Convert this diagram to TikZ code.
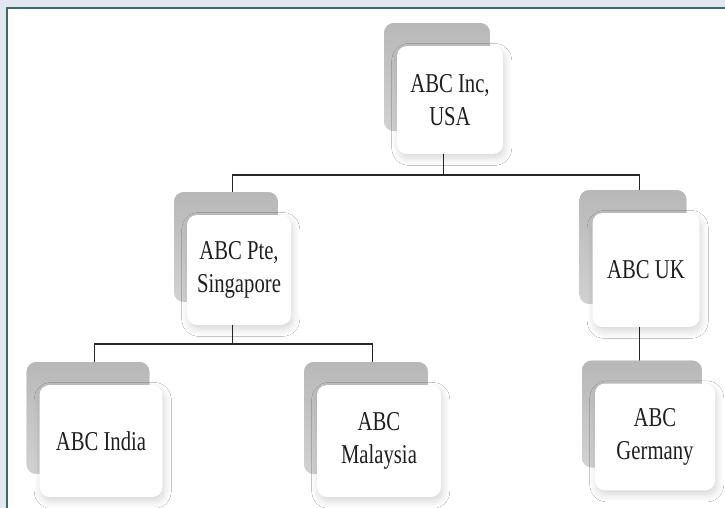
\documentclass[tikz,border=0pt]{standalone}
\usepackage{fontspec}
\setmainfont[FakeStretch=0.76]{Liberation Serif}
\usepackage{tikz}
\usetikzlibrary{shadows}
\usetikzlibrary{shadows.blur}
\usetikzlibrary{backgrounds}
\usetikzlibrary{calc}
\definecolor{pagebg}{HTML}{E1E7EF}
\definecolor{framecol}{HTML}{3E6A6A}

\begin{document}
\begin{tikzpicture}
  [
    x=0.02cm, y=-0.02cm,
    unit/.style={
      general shadow={shadow xshift=-.26cm, shadow yshift=.46cm, fill=black!22,
        top color=black!28, bottom color=black!18, rounded corners=.2cm},
      blur shadow={shadow xshift=1pt, shadow yshift=-2.5pt, shadow blur radius=4pt,
        shadow blur steps=10, shadow opacity=16},
      fill=white, rounded corners=.2cm, align=center, inner sep=1pt,
      minimum height=2.2cm, text=black!88,
      font=\fontsize{15.5}{19}\selectfont
    },
    link/.style={line width=1pt, black!85},
  ]
    \useasboundingbox (0,0) rectangle (725,508);
    % companies
    \node [unit, minimum width=2.12cm, minimum height=2.16cm] (usa) at (450,100) {ABC Inc,\\USA};
    \node [unit, minimum width=2.08cm] (sing) at (239,270) {ABC Pte,\\Singapore};
    \node [unit, minimum width=2.14cm, minimum height=2.28cm] (uk) at (646,270) {ABC UK};
    \node [unit, minimum width=2.46cm, minimum height=2.24cm] (india) at (101,441) {ABC India};
    \node [unit, minimum width=2.48cm, minimum height=2.24cm] (malay) at (379,441) {ABC\\Malaysia};
    \node [unit, minimum width=2.4cm, minimum height=2.14cm] (germ) at (655,437) {ABC\\Germany};
    \begin{scope}[on background layer]
      % panel
      \fill [pagebg] (0,0) rectangle (725,508);
      \fill [white] (7,8) rectangle (725,508);
      \draw [framecol, line width=1.3pt] (725,8) -- (7,8) -- (7,508);
      % links
      \draw [link] ([xshift=-.13cm]usa.south) -- ++(0,21) coordinate (topbus);
      \draw [link] ([xshift=-.13cm]sing.north) |- (topbus) -| ([xshift=-.13cm]uk.north);
      \draw [link] ([xshift=-.13cm]sing.south) -- ++(0,19) coordinate (midbus);
      \draw [link] ([xshift=-.13cm]india.north) |- (midbus) -| ([xshift=-.13cm]malay.north);
      \draw [link] ([xshift=-.13cm]uk.south) -- ([xshift=-.13cm]uk.south |- germ.north);
    \end{scope}
\end{tikzpicture}
\end{document}
